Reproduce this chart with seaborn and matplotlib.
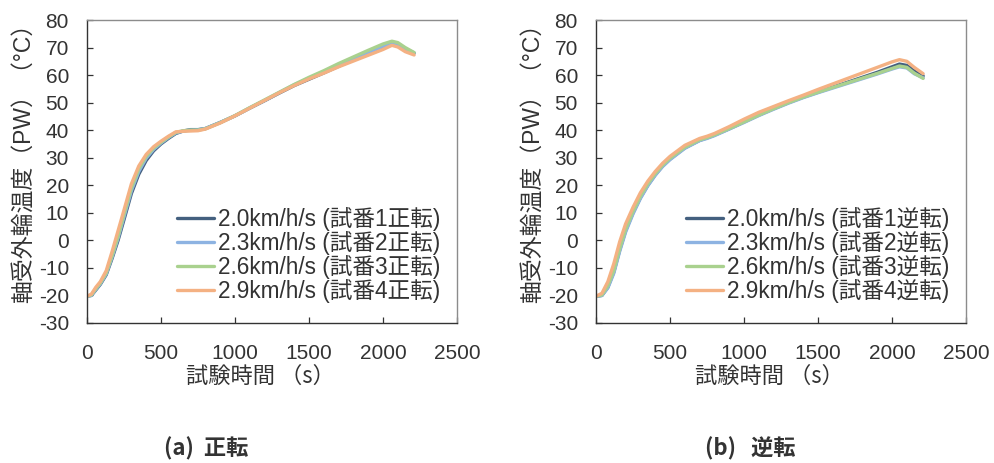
import matplotlib
matplotlib.use("Agg")
import matplotlib.pyplot as plt
import seaborn as sns

# ---------------- data ----------------
t_a = [0, 30, 60, 90, 130, 170, 210, 250, 300, 350, 400, 450, 500, 550, 600, 650, 700, 750, 800,
       900, 1000, 1100, 1200, 1300, 1400, 1500, 1600, 1700, 1800, 1900, 2000, 2060, 2100, 2150, 2210]
a_20 = [-20.3, -20, -18, -16, -12.5, -6.5, 0, 7.5, 17, 24, 29, 32.5, 35, 37, 38.8, 39.7, 40.2, 40.2, 40.6,
        42.8, 45.2, 48, 50.7, 53.5, 56.2, 58.5, 60.8, 63.2, 65.6, 67.8, 70, 71.3, 71, 69.5, 68]
a_23 = [-20.3, -20, -17.8, -15.8, -12.2, -6, 0.8, 8.5, 18, 25, 29.8, 33, 35.3, 37.3, 39, 39.7, 40, 40.1, 40.6,
        42.8, 45.2, 48.1, 50.8, 53.7, 56.5, 58.9, 61.2, 63.6, 66, 68.2, 70.4, 71.5, 71.2, 69.6, 68]
a_26 = [-20.3, -19.8, -17.5, -15.5, -11.8, -5.5, 1.5, 9.5, 19, 26, 30.5, 33.5, 35.6, 37.5, 39.2, 39.8, 40, 40, 40.5,
        42.7, 45.3, 48.2, 51, 53.8, 56.6, 59.2, 61.6, 64.2, 66.6, 69, 71.3, 72.3, 71.8, 70, 68.2]
a_29 = [-20.3, -19.5, -17, -15, -11, -4, 3.5, 11, 20.5, 27, 31.2, 34, 36, 37.8, 39.4, 39.6, 39.7, 39.8, 40.4,
        42.6, 45.2, 48, 50.8, 53.6, 56.2, 58.6, 60.7, 63, 65.1, 67.2, 69.3, 70.8, 70.2, 68.5, 67.3]

t_b = [0, 40, 80, 120, 160, 200, 250, 300, 350, 400, 450, 500, 600, 700, 750, 800, 900, 1000, 1100,
       1200, 1300, 1400, 1500, 1600, 1700, 1800, 1900, 2000, 2050, 2100, 2150, 2210]
b_20 = [-20.3, -20, -17, -11.5, -3.5, 3.5, 10, 15.5, 20, 23.8, 27, 29.5, 33.6, 36.3, 37.2, 38.2, 40.5, 43, 45.5,
        47.8, 50, 52, 53.8, 55.6, 57.4, 59.2, 61, 63, 64, 63.5, 61.5, 59.7]
b_23 = [-20.3, -20, -17.3, -12, -4, 3, 9.6, 15.2, 19.8, 23.6, 26.8, 29.3, 33.4, 36.2, 37, 38, 40.4, 42.8, 45.3,
        47.6, 49.8, 51.8, 53.6, 55.3, 57, 58.7, 60.4, 62.2, 63, 62.6, 60.5, 59]
b_26 = [-20.3, -19.8, -16.5, -11, -3, 4, 10.5, 16, 20.5, 24.2, 27.3, 29.8, 33.8, 36.5, 37.3, 38.3, 40.6, 43, 45.5,
        47.8, 50, 52, 53.8, 55.5, 57.2, 58.9, 60.6, 62.4, 63.3, 62.8, 60.7, 58.8]
b_29 = [-20.3, -19.2, -15, -8.5, -0.5, 6, 12, 17.3, 21.5, 25, 28, 30.5, 34.5, 37, 37.8, 38.8, 41.3, 44, 46.5,
        48.6, 50.7, 52.7, 54.8, 56.8, 58.8, 60.8, 62.8, 64.8, 65.6, 65, 62.8, 60.5]

speeds = ["2.0km/h/s", "2.3km/h/s", "2.6km/h/s", "2.9km/h/s"]
labels_a = [f"{s} (試番{i+1}正転)" for i, s in enumerate(speeds)]
labels_b = [f"{s} (試番{i+1}逆転)" for i, s in enumerate(speeds)]
captions = ["(a)  正転", "(b)   逆転"]
ylabel = "軸受外輪温度（PW）（°C）"
xlabel = "試験時間 （s）"
yticks = [-30, -20, -10, 0, 10, 20, 30, 40, 50, 60, 70, 80]
xticks = [0, 500, 1000, 1500, 2000, 2500]

# ---------------- style ----------------
sns.set_style("white")
plt.rcParams["font.family"] = ["Liberation Sans", "Noto Sans CJK JP", "DejaVu Sans"]
plt.rcParams["axes.unicode_minus"] = False

colors = ["#44607F", "#8DB3E2", "#A9D18E", "#F4B183"]
txt = "#333333"

fig = plt.figure(figsize=(9.94, 4.63), dpi=100)
ax_a = fig.add_axes([0.0875, 0.3024, 0.3723, 0.6544])
ax_b = fig.add_axes([0.5996, 0.3024, 0.3723, 0.6544])

panels = [
    (ax_a, t_a, [a_20, a_23, a_26, a_29], labels_a),
    (ax_b, t_b, [b_20, b_23, b_26, b_29], labels_b),
]

for ax, t, series, labels in panels:
    for y, c, lab in zip(series, colors, labels):
        sns.lineplot(x=t, y=y, ax=ax, color=c, label=lab, linewidth=2.4, sort=False)
    ax.set_xlim(0, 2500)
    ax.set_ylim(-30, 80)
    ax.set_xticks(xticks)
    ax.set_yticks(yticks)
    ax.tick_params(direction="in", length=4, width=0.9, labelsize=15, colors=txt,
                   bottom=True, left=True)
    ax.tick_params(axis="x", pad=15)
    ax.tick_params(axis="y", pad=13)
    for side in ["left", "bottom"]:
        ax.spines[side].set_color("#333333")
        ax.spines[side].set_linewidth(1.0)
    for side in ["top", "right"]:
        ax.spines[side].set_color("#8c8c8c")
        ax.spines[side].set_linewidth(1.0)
    ax.set_xlabel(xlabel, fontsize=16, color=txt, family=["Noto Sans CJK JP"])
    ax.xaxis.set_label_coords(0.47, -0.138)
    ax.xaxis.label.set_va("top")
    ax.set_ylabel(ylabel, fontsize=16.5, color=txt,
                  family=["Liberation Sans", "Noto Sans CJK JP", "DejaVu Sans"])
    ax.yaxis.set_label_coords(-0.14, 0.545)
    leg = ax.legend(loc="lower right", frameon=False, fontsize=16.3, handlelength=1.6,
                    handletextpad=0.2, labelspacing=0.0, borderaxespad=0.0,
                    bbox_to_anchor=(0.98, 0.035))
    for tx in leg.get_texts():
        tx.set_color(txt)

fig.text(0.207, 0.006, captions[0], fontsize=16, fontweight="bold", color=txt,
         family=["Noto Sans CJK JP"], ha="center", va="bottom")
fig.text(0.755, 0.006, captions[1], fontsize=16, fontweight="bold", color=txt,
         family=["Noto Sans CJK JP"], ha="center", va="bottom")

fig.savefig("out.png", dpi=100, facecolor="white")
